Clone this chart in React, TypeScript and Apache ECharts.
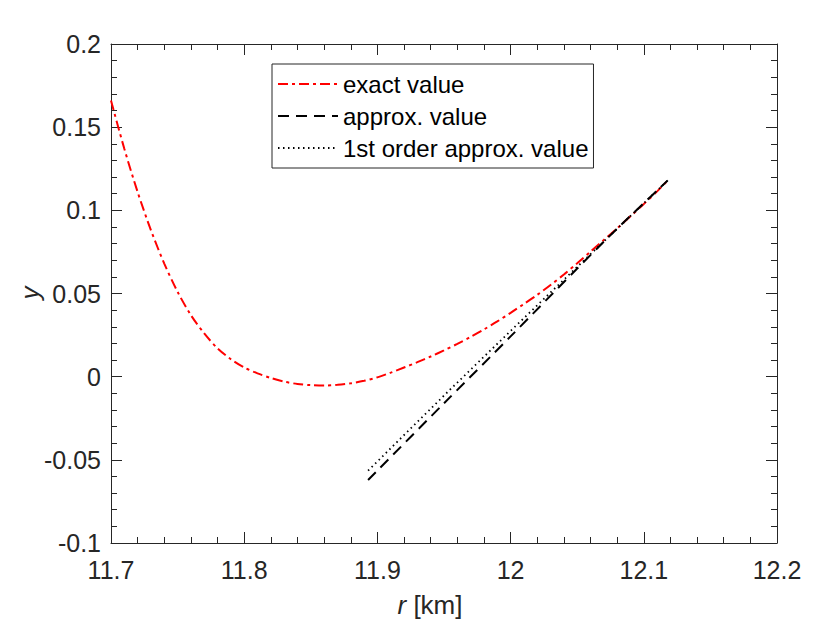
import React, { useEffect, useRef } from "react";
import * as echarts from "echarts";

// exact value (red dash-dot)
const exactX = [11.7, 11.71, 11.72, 11.73, 11.74, 11.75, 11.76, 11.77, 11.78, 11.79, 11.8, 11.81, 11.82, 11.83, 11.84, 11.85, 11.86, 11.87, 11.88, 11.89, 11.9, 11.91, 11.92, 11.93, 11.94, 11.95, 11.96, 11.97, 11.98, 11.99, 12.0, 12.01, 12.02, 12.03, 12.04, 12.05, 12.06, 12.07, 12.08, 12.09, 12.1, 12.11, 12.118];
const exactY = [0.166, 0.137, 0.111, 0.088, 0.068, 0.051, 0.037, 0.026, 0.017, 0.0105, 0.0055, 0.002, -0.0008, -0.003, -0.0044, -0.0051, -0.0053, -0.0049, -0.004, -0.0025, -0.0004, 0.0024, 0.0055, 0.0087, 0.0121, 0.0158, 0.0197, 0.0239, 0.0284, 0.0332, 0.0384, 0.0437, 0.0492, 0.0551, 0.0614, 0.0682, 0.0752, 0.0822, 0.0892, 0.0964, 0.1038, 0.1114, 0.118];

// approx. value (black dashed)
const approxX = [11.893, 11.95, 12.0, 12.05, 12.08, 12.118];
const approxY = [-0.0621, -0.016, 0.0242, 0.065, 0.089, 0.118];

// 1st order approx. value (black dotted)
const firstX = [11.893, 11.9545, 12.0, 12.05, 12.118];
const firstY = [-0.0565, -0.0078, 0.0275, 0.066, 0.118];

const xTicks = { min: 11.7, max: 12.2, interval: 0.1 };
const yTicks = { min: -0.1, max: 0.2, interval: 0.05 };

const seriesNames = ["exact value", "approx. value", "1st order approx. value"];

const zip = (xs: number[], ys: number[]) => xs.map((x, i) => [x, ys[i]]);

const AXIS_COLOR = "#262626";
const FONT = "'Liberation Sans', Arial, Helvetica, sans-serif";

export default function App() {
  const ref = useRef<HTMLDivElement>(null);
  useEffect(() => {
    if (!ref.current) return;
    const chart = echarts.init(ref.current, undefined, { renderer: "svg" });
    const axisCommon = {
      type: "value" as const,
      axisLine: { show: true, onZero: false, lineStyle: { color: AXIS_COLOR, width: 1 } },
      axisTick: { show: true, inside: true, length: 11, lineStyle: { color: AXIS_COLOR, width: 1 } },
      minorTick: { show: true, splitNumber: 5, length: 6, lineStyle: { color: AXIS_COLOR, width: 1 } },
      splitLine: { show: false },
      minorSplitLine: { show: false },
    };
    const labelStyle = { color: AXIS_COLOR, fontSize: 25, fontFamily: FONT };
    chart.setOption({
      animation: false,
      backgroundColor: "#ffffff",
      grid: { left: 111, top: 44, right: 53, bottom: 80, containLabel: false },
      xAxis: [
        { ...axisCommon, position: "bottom", ...xTicks, axisLabel: { ...labelStyle, margin: 14 } },
        { ...axisCommon, position: "top", ...xTicks, axisLabel: { show: false } },
      ],
      yAxis: [
        { ...axisCommon, position: "left", ...yTicks, axisLabel: { ...labelStyle, margin: 10 } },
        { ...axisCommon, position: "right", ...yTicks, axisLabel: { show: false } },
      ],
      legend: {
        orient: "vertical",
        left: 272,
        top: 64,
        padding: [8, 5, 8, 5],
        itemWidth: 60,
        itemHeight: 14,
        itemGap: 8,
        borderColor: AXIS_COLOR,
        borderWidth: 1,
        backgroundColor: "#ffffff",
        borderRadius: 0,
        itemStyle: { opacity: 0 },
        textStyle: { color: "#000000", fontSize: 24, fontFamily: FONT, lineHeight: 24 },
        data: seriesNames,
      },
      series: [
        {
          name: seriesNames[0],
          type: "line",
          symbol: "none",
          data: zip(exactX, exactY),
          smooth: 0.3,
          lineStyle: { color: "#ff0000", width: 2, type: [10, 4, 3, 4] },
          itemStyle: { color: "#ff0000" },
        },
        {
          name: seriesNames[1],
          type: "line",
          symbol: "none",
          data: zip(approxX, approxY),
          smooth: 0.3,
          lineStyle: { color: "#000000", width: 2, type: [11, 7] },
          itemStyle: { color: "#000000" },
        },
        {
          name: seriesNames[2],
          type: "line",
          symbol: "none",
          data: zip(firstX, firstY),
          lineStyle: { color: "#000000", width: 1.8, type: [1.5, 3.5] },
          itemStyle: { color: "#000000" },
        },
      ],
      graphic: [
        {
          type: "text",
          x: 30,
          y: 293,
          rotation: Math.PI / 2,
          style: {
            text: "y",
            font: `italic 26px ${FONT}`,
            fill: AXIS_COLOR,
            align: "center",
            verticalAlign: "middle",
          },
        },
        {
          type: "text",
          x: 430,
          y: 605,
          style: {
            text: "{i|r} [km]",
            font: `26px ${FONT}`,
            fill: AXIS_COLOR,
            align: "center",
            verticalAlign: "middle",
            rich: {
              i: { fontStyle: "italic", fontSize: 26, fontFamily: FONT, fill: AXIS_COLOR },
            },
          },
        },
      ],
    });
    return () => chart.dispose();
  }, []);
  return (
    <div
      ref={ref}
      style={{ position: "fixed", left: 0, top: 0, width: 830, height: 623, background: "#fff" }}
    />
  );
}
